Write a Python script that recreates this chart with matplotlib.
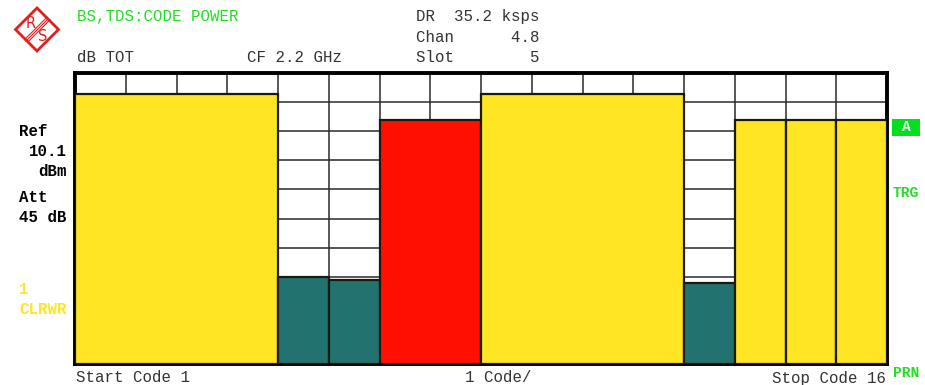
import numpy as np
import matplotlib
matplotlib.use("Agg")
import matplotlib.pyplot as plt
from matplotlib.patches import Polygon, Rectangle

plt.rcParams['font.family'] = ['Liberation Mono', 'DejaVu Sans Mono']

# channel data (code domain power, dB relative to total)
ch_start = [1, 5, 6, 7, 9, 13, 14, 15, 16]
ch_width = [4, 1, 1, 2, 4, 1, 1, 1, 1]
ch_power = [-3.6, -35.0, -35.6, -8.1, -3.6, -36.1, -8.1, -8.1, -8.1]
ch_color = ['#ffe524', '#227370', '#227370', '#ff1000', '#ffe524',
            '#227370', '#ffe524', '#ffe524', '#ffe524']

y_top, y_bot = 0, -50
n_codes = 16

W, H = 925, 385
fig = plt.figure(figsize=(W / 100, H / 100), dpi=100)
fig.patch.set_facecolor('white')

def px(x, y):
    return x / W, 1 - y / H

l, r, t, b = 75, 887, 73, 364
ax = fig.add_axes([l / W, 1 - b / H, (r - l) / W, (b - t) / H])
ax.set_xlim(0, n_codes)
ax.set_ylim(y_bot, y_top)
ax.set_xticks(np.arange(0, n_codes + 1))
ax.set_yticks(np.arange(y_bot, y_top + 1, 5))
ax.tick_params(length=0, labelbottom=False, labelleft=False)
ax.grid(True, color='#2a2a2a', lw=1.1)
ax.set_axisbelow(True)
for s in ax.spines.values():
    s.set_linewidth(2.8)
    s.set_color('black')

x0 = [s - 1 for s in ch_start]
heights = [p - y_bot for p in ch_power]
ax.bar(x0, heights, width=ch_width, bottom=y_bot, align='edge',
       color=ch_color, edgecolor='#1a1a10', linewidth=1.6, zorder=3)

gray = '#333333'
green = '#22dd22'
fs = 11.3

def txt(x, y, s, **kw):
    kw.setdefault('fontsize', fs)
    kw.setdefault('va', 'center')
    fig.text(*px(x, y), s, **kw)

# header
txt(77, 17, 'BS,TDS:CODE POWER', color=green)
txt(77, 58, 'dB TOT', color=gray)
txt(247, 58, 'CF 2.2 GHz', color=gray)
txt(416, 17, 'DR  35.2 ksps', color=gray)
txt(416, 38, 'Chan      4.8', color=gray)
txt(416, 58, 'Slot        5', color=gray)

# left labels
txt(19, 132, 'Ref', color='black', weight='bold')
txt(67, 152, '10.1', color='black', weight='bold', ha='right')
txt(67, 172, 'dBm', color='black', weight='bold', ha='right')
txt(19, 198, 'Att', color='black', weight='bold')
txt(19, 218, '45 dB', color='black', weight='bold')
txt(19, 289, '1', color='#ffe524', weight='bold')
txt(19, 310, 'CLRWR', color='#ffe524', weight='bold')

# right labels
fig.patches.append(Rectangle(px(892, 136), 28 / W, 17 / H, transform=fig.transFigure,
                             facecolor='#00e020', edgecolor='none'))
txt(906, 127, 'A', color='white', weight='bold', ha='center', fontsize=10.5)
txt(893, 193, 'TRG', color=green, weight='bold', fontsize=10.5)
txt(893, 373, 'PRN', color=green, weight='bold', fontsize=10.5)

# footer
txt(76, 378, 'Start Code 1', color=gray)
txt(465, 378, '1 Code/', color=gray)
txt(886, 378, 'Stop Code 16', color=gray, ha='right')

# R&S logo
lg = fig.add_axes([0, 1 - 60 / H, 75 / W, 60 / H])
lg.set_xlim(0, 75)
lg.set_ylim(60, 0)
lg.axis('off')
cx, cy, hs = 37, 29.5, 21.5
lg.add_patch(Polygon([[cx - hs, cy], [cx, cy - hs], [cx + hs, cy], [cx, cy + hs]],
                     closed=True, fill=False, edgecolor='#e02020', lw=2))
for d in (-1.4, 0, 1.4):
    lg.plot([48.5 + d, 26 + d], [18.5 + d, 41 + d], color='#e02020', lw=0.8)
lg.text(31, 24, 'R', color='#e02020', fontsize=10.5, ha='center', va='center',
        family='DejaVu Sans')
lg.text(43, 36.5, 'S', color='#e02020', fontsize=10.5, ha='center', va='center',
        family='DejaVu Sans')

fig.savefig('out.png', dpi=100)
